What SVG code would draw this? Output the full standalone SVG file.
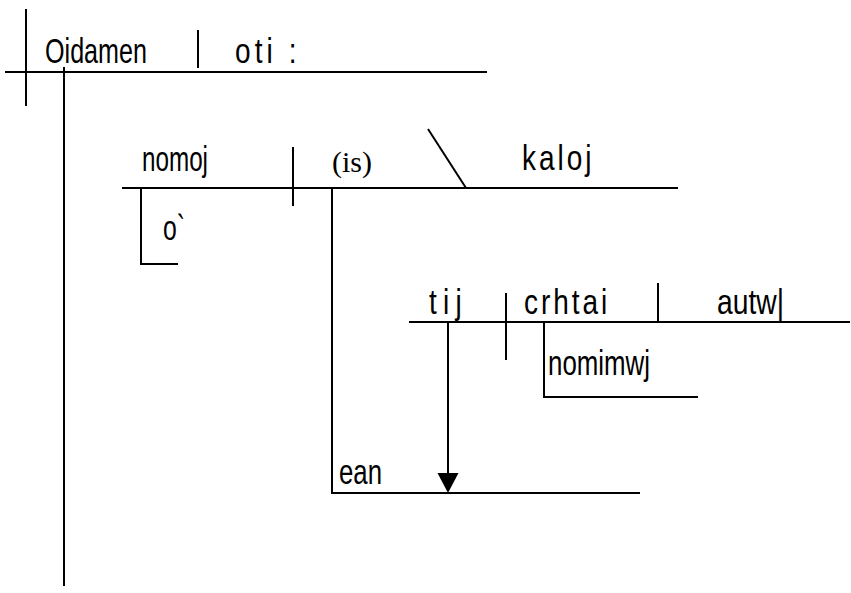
<svg xmlns="http://www.w3.org/2000/svg" width="851" height="593" viewBox="0 0 851 593">
<style>
.l{stroke:#000;stroke-width:2;fill:none}
.t{font-family:"Liberation Sans",Arial,sans-serif;font-size:35px;fill:#000}
.s{font-family:"Liberation Serif","Times New Roman",serif;font-size:29px;fill:#000}
</style>
<rect width="851" height="593" fill="#fff"/>
<g id="connectors">
<line class="l" x1="26" y1="9" x2="26" y2="106"/>
<line class="l" x1="5" y1="72" x2="487" y2="72"/>
<line class="l" x1="198" y1="30" x2="198" y2="68"/>
<line class="l" x1="64" y1="67" x2="64" y2="586"/>
<line class="l" x1="122" y1="188" x2="678" y2="188"/>
<line class="l" x1="293" y1="147" x2="293" y2="206"/>
<line class="l" x1="428" y1="129" x2="466" y2="188"/>
<polyline class="l" points="141,188 141,264 178,264"/>
<line class="l" x1="332" y1="188" x2="332" y2="493"/>
<line class="l" x1="331" y1="493" x2="640" y2="493"/>
<line class="l" x1="409" y1="322" x2="850" y2="322"/>
<line class="l" x1="506" y1="293" x2="506" y2="360"/>
<line class="l" x1="658" y1="283" x2="658" y2="322"/>
<polyline class="l" points="544,322 544,397 698,397"/>
<line class="l" x1="448" y1="322" x2="448" y2="474"/>
<path d="M437.5,473 L458.5,473 L448,493 Z" fill="#000"/>
</g>
<g id="n1"><text class="t" x="45" y="63" textLength="102" lengthAdjust="spacingAndGlyphs">Oidamen</text></g>
<g id="n2" transform="translate(235,63) scale(0.8,1)"><text class="t" x="0" y="0" textLength="77" lengthAdjust="spacing">oti :</text></g>
<g id="n3"><text class="t" x="142" y="171" textLength="66" lengthAdjust="spacingAndGlyphs">nomoj</text></g>
<g id="n4"><text class="s" x="332" y="172" textLength="40" lengthAdjust="spacingAndGlyphs">(is)</text></g>
<g id="n5" transform="translate(522,170) scale(0.8,1)"><text class="t" x="0" y="0" textLength="87" lengthAdjust="spacing">kaloj</text></g>
<g id="n6"><text class="t" x="163" y="240" textLength="22" lengthAdjust="spacingAndGlyphs">o`</text></g>
<g id="n7" transform="translate(429,314) scale(0.8,1)"><text class="t" x="0" y="0" textLength="41" lengthAdjust="spacing">tij</text></g>
<g id="n8" transform="translate(524,314) scale(0.8,1)"><text class="t" x="0" y="0" textLength="104" lengthAdjust="spacing">crhtai</text></g>
<g id="n9"><text class="t" x="717" y="314" textLength="67" lengthAdjust="spacingAndGlyphs">autw|</text></g>
<g id="n10"><text class="t" x="548" y="375" textLength="102" lengthAdjust="spacingAndGlyphs">nomimwj</text></g>
<g id="n11"><text class="t" x="339" y="484" textLength="43" lengthAdjust="spacingAndGlyphs">ean</text></g>
</svg>
